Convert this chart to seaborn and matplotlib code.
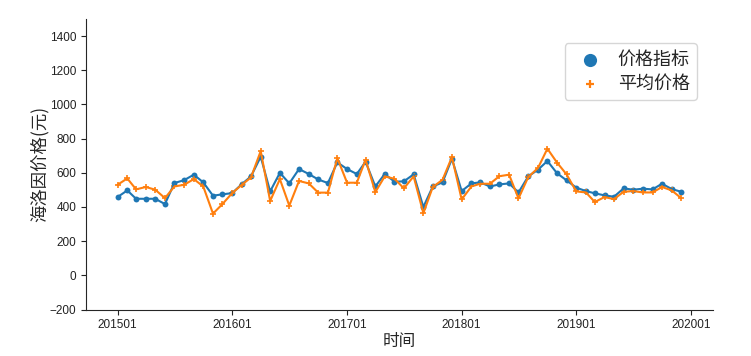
import matplotlib
matplotlib.use('Agg')
import matplotlib.pyplot as plt
import matplotlib.dates as mdates
import pandas as pd
import seaborn as sns

months = pd.date_range('2015-01-01', periods=60, freq='MS')

# 价格指标
price_index = [458, 497, 448, 448, 448, 417, 540, 557, 589, 544, 466, 474,
               481, 534, 579, 694, 491, 600, 538, 622, 593, 561, 540, 661,
               622, 593, 665, 520, 593, 548, 550, 591, 400, 520, 544, 682,
               493, 538, 544, 520, 532, 538, 485, 579, 618, 669, 597, 556,
               513, 493, 480, 468, 460, 509, 501, 507, 503, 536, 505, 489]

# 平均价格
avg_price = [530, 567, 503, 517, 501, 452, 520, 530, 563, 520, 361, 417,
             481, 530, 573, 727, 435, 563, 408, 552, 538, 484, 484, 686,
             542, 542, 676, 487, 579, 565, 509, 579, 364, 517, 559, 692,
             444, 520, 536, 536, 580, 589, 450, 575, 628, 741, 659, 591,
             491, 485, 429, 458, 446, 489, 493, 485, 485, 517, 497, 452]

df = pd.DataFrame({'时间': months, '价格指标': price_index, '平均价格': avg_price})

sns.set_style('ticks')
plt.rcParams['font.family'] = ['Noto Sans CJK SC', 'DejaVu Sans']
plt.rcParams['axes.unicode_minus'] = True

blue, orange = '#1f77b4', '#ff7f0e'

fig = plt.figure(figsize=(7.51, 3.56), dpi=100)
ax = fig.add_axes([0.1145, 0.1306, 0.8345, 0.816])

sns.lineplot(data=df, x='时间', y='价格指标', color=blue, linewidth=1.5, ax=ax, legend=False)
sns.lineplot(data=df, x='时间', y='平均价格', color=orange, linewidth=1.5, ax=ax, legend=False)
sns.scatterplot(data=df, x='时间', y='价格指标', color=blue, s=18, edgecolor=blue,
                linewidth=0, label='价格指标', ax=ax)
sns.scatterplot(data=df, x='时间', y='平均价格', color=orange, marker='+', s=22,
                linewidth=1.2, label='平均价格', ax=ax)

ax.set_ylim(-200, 1500)
ax.set_yticks(range(-200, 1401, 200))
ax.margins(x=0.056)
ax.xaxis.set_major_locator(mdates.YearLocator())
ax.xaxis.set_major_formatter(mdates.DateFormatter('%Y%m'))
ax.tick_params(labelsize=8.5, colors='#222222', length=3.5)
for lbl in ax.get_xticklabels() + ax.get_yticklabels():
    lbl.set_family(['Liberation Sans', 'DejaVu Sans'])

ax.set_xlabel('时间', fontsize=12, labelpad=1)
ax.set_ylabel('海洛因价格(元)', fontsize=12.5, labelpad=1)
sns.despine(ax=ax)

leg = ax.legend(loc='upper right', bbox_to_anchor=(0.975, 0.917), borderaxespad=0,
                fontsize=13, frameon=True, handletextpad=0.55, labelspacing=0.35)
leg.legend_handles[0].set_sizes([90])
leg.legend_handles[1].set_sizes([40])
leg.legend_handles[1].set_linewidth(1.6)

fig.savefig('out.png', dpi=100)
